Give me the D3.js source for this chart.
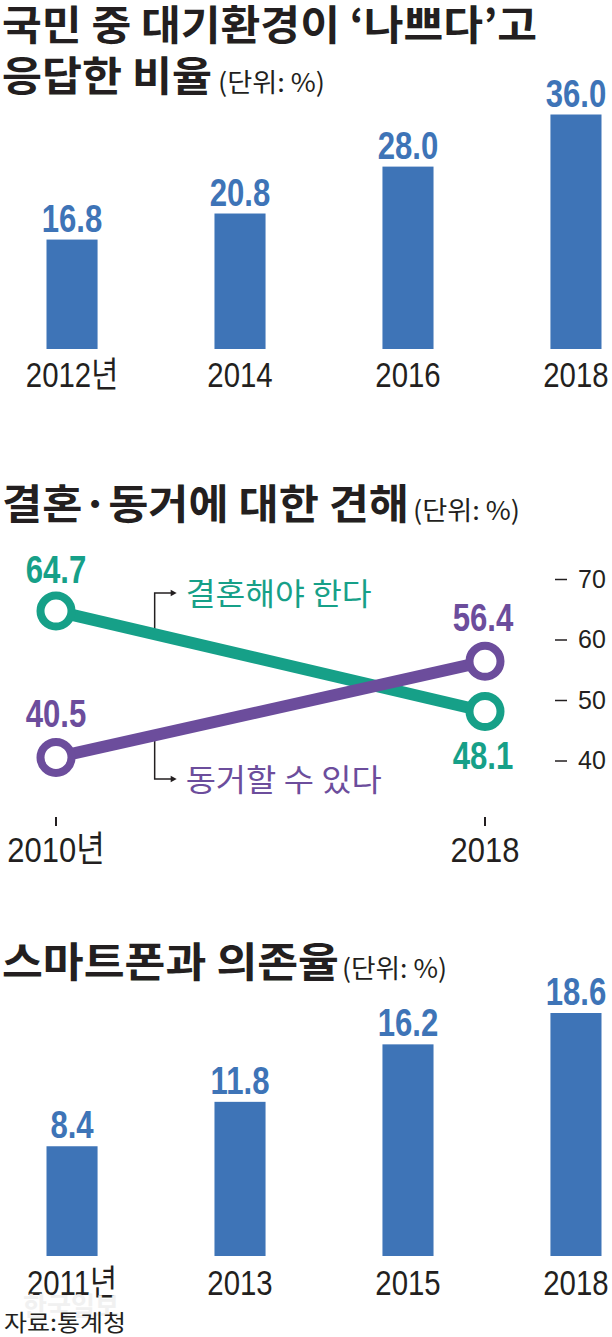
<!DOCTYPE html>
<html><head><meta charset="utf-8">
<script src="https://cdn.jsdelivr.net/npm/d3@7"></script>
<style>
body{margin:0;background:#fff;}
svg{display:block;}
</style></head><body>
<svg id="c" width="612" height="1337"></svg>
<script>
// ---- data ----
const airYears = ["2012년", "2014", "2016", "2018"];
const airValues = [16.8, 20.8, 28.0, 36.0];

const lineYears = [2010, 2018];
const lineYearLabels = ["2010년", "2018"];
const marryValues = [64.7, 48.1];
const cohabitValues = [40.5, 56.4];
const lineTicks = [40, 50, 60, 70];
const marryLabel = "결혼해야 한다";
const cohabitLabel = "동거할 수 있다";

const phoneYears = ["2011년", "2013", "2015", "2018"];
const phoneValues = [8.4, 11.8, 16.2, 18.6];

// ---- style ----
const KR = "'Noto Sans CJK KR','Noto Sans CJK SC',sans-serif";
const NUM = "'Liberation Sans',Arial,'Noto Sans CJK KR',sans-serif";
const INK = "#231f20";
const BLUE = "#3e74b7";
const TEAL = "#16a088";
const PURPLE = "#6c4d9c";

const svg = d3.select("#c");

// horizontally condensed text placed at (x, y)
function narrow(sel, fx, fy, sx) {
  return sel.attr("x", 0).attr("y", 0)
    .attr("transform", (d, i) => `translate(${fx(d, i)},${fy(d, i)}) scale(${sx},1)`);
}

function title(main, mainBase, mainLen, lines) {
  lines.forEach(l => {
    svg.append("text").attr("x", 2).attr("y", l.y)
      .attr("font-family", KR).attr("font-weight", 700).attr("font-size", 41)
      .attr("fill", INK).attr("textLength", l.len).attr("lengthAdjust", "spacingAndGlyphs")
      .text(l.t);
  });
  svg.append("text").attr("x", main.x).attr("y", mainBase)
    .attr("font-family", KR).attr("font-weight", 400).attr("font-size", 26)
    .attr("fill", INK).attr("textLength", mainLen).attr("lengthAdjust", "spacingAndGlyphs")
    .text("(단위: %)");
}

// ===== Chart 1 =====
title({x: 218}, 92, 107, [
  {t: "국민 중 대기환경이 ‘나쁘다’고", y: 40, len: 535},
  {t: "응답한 비율", y: 91, len: 210}
]);

function barChart(cats, vals, yMax, baseY, topY, yearBase) {
  const x = d3.scaleBand().domain(cats).range([46.5, 601.5]).paddingInner(0.696).paddingOuter(0);
  const y = d3.scaleLinear().domain([0, yMax]).range([baseY, topY]);
  const g = svg.append("g");
  const data = cats.map((c, i) => ({c, v: vals[i]}));
  g.selectAll("rect").data(data).join("rect")
    .attr("x", d => x(d.c)).attr("width", x.bandwidth())
    .attr("y", d => y(d.v)).attr("height", d => y(0) - y(d.v))
    .attr("fill", BLUE);
  narrow(g.selectAll("text.val").data(data).join("text").attr("class", "val"),
      d => x(d.c) + x.bandwidth() / 2, d => y(d.v) - 8, 0.82)
    .attr("text-anchor", "middle").attr("font-family", NUM).attr("font-weight", 700)
    .attr("font-size", 38).attr("fill", BLUE)
    .text(d => d.v.toFixed(1));
  narrow(g.selectAll("text.cat").data(data).join("text").attr("class", "cat"),
      d => x(d.c) + x.bandwidth() / 2, () => yearBase, 0.84)
    .attr("text-anchor", "middle").attr("font-family", NUM).attr("font-weight", 400)
    .attr("font-size", 35).attr("fill", INK)
    .text(d => d.c);
}
barChart(airYears, airValues, 36, 349, 114.5, 387);

// ===== Chart 2 =====
title({x: 413}, 520, 107, [
  {t: "결혼·동거에 대한 견해", y: 519, len: 407}
]);

const lx = d3.scaleLinear().domain(lineYears).range([56, 485]);
const ly = d3.scaleLinear().domain([40, 70]).range([760.5, 579]);

const axis = svg.append("g").attr("transform", "translate(555,0)")
  .call(d3.axisRight(ly).tickValues(lineTicks).tickSize(12).tickPadding(11));
axis.select(".domain").remove();
axis.selectAll("line").attr("stroke", INK).attr("stroke-width", 1.5);
axis.selectAll("text").attr("font-family", NUM)
  .attr("font-size", 25).attr("fill", INK);

// year ticks and labels
const yrG = svg.append("g");
yrG.selectAll("line").data(lineYears).join("line")
  .attr("x1", d => lx(d)).attr("x2", d => lx(d)).attr("y1", 817).attr("y2", 826)
  .attr("stroke", INK).attr("stroke-width", 2);
narrow(yrG.selectAll("text").data(lineYears).join("text"), d => lx(d), () => 862, 0.86)
  .attr("text-anchor", "middle").attr("font-family", NUM).attr("font-size", 36)
  .attr("fill", INK).text((d, i) => lineYearLabels[i]);

const seriesList = [
  {vals: marryValues, color: TEAL, name: marryLabel, dir: -1, lblOff: [-28, 58]},
  {vals: cohabitValues, color: PURPLE, name: cohabitLabel, dir: 1, lblOff: [-30, -30]}
];
const lineGen = d3.line().x(d => lx(d.yr)).y(d => ly(d.v));

// annotation connectors
const annT = 0.23;
seriesList.forEach(s => {
  const ax = lx(lineYears[0]) + annT * (lx(lineYears[1]) - lx(lineYears[0]));
  const ayLine = ly(s.vals[0]) + annT * (ly(s.vals[1]) - ly(s.vals[0]));
  const yEnd = s.dir < 0 ? 593 : 779;
  const yStart = ayLine + s.dir * 5;
  svg.append("path").attr("d", `M${ax},${yStart}V${yEnd}H${ax + 17}`)
    .attr("fill", "none").attr("stroke", INK).attr("stroke-width", 1.5);
  svg.append("path").attr("d", `M${ax + 22},${yEnd}l-6,-3.2v6.4z`).attr("fill", INK);
  svg.append("text").attr("x", ax + 31).attr("y", yEnd + 12)
    .attr("font-family", KR).attr("font-size", 31).attr("fill", s.color)
    .attr("textLength", s.dir < 0 ? 186 : 196).attr("lengthAdjust", "spacingAndGlyphs")
    .text(s.name);
});

seriesList.forEach(s => {
  const pts = lineYears.map((yr, i) => ({yr, v: s.vals[i]}));
  svg.append("path").datum(pts).attr("d", lineGen)
    .attr("fill", "none").attr("stroke", s.color).attr("stroke-width", 12);
});
seriesList.forEach(s => {
  const pts = lineYears.map((yr, i) => ({yr, v: s.vals[i], i}));
  const g = svg.append("g");
  g.selectAll("circle").data(pts).join("circle")
    .attr("cx", d => lx(d.yr)).attr("cy", d => ly(d.v)).attr("r", 15.5)
    .attr("fill", "#fff").attr("stroke", s.color).attr("stroke-width", 8);
  narrow(g.selectAll("text").data(pts).join("text"),
      d => lx(d.yr) - (d.i ? 2 : 0), d => ly(d.v) + s.lblOff[d.i], 0.82)
    .attr("text-anchor", "middle").attr("font-family", NUM).attr("font-weight", 700)
    .attr("font-size", 38).attr("fill", s.color).text(d => d.v.toFixed(1));
});

// ===== Chart 3 =====
title({x: 342}, 978, 105, [
  {t: "스마트폰과 의존율", y: 977, len: 337}
]);
barChart(phoneYears, phoneValues, 18.6, 1256, 1013, 1295);

// watermark & source
svg.append("text").attr("x", 23).attr("y", 1316).attr("font-family", KR).attr("font-weight", 700)
  .attr("font-size", 26).attr("fill", "#f1f1f1").attr("textLength", 96)
  .attr("lengthAdjust", "spacingAndGlyphs").text("한국일보");
svg.append("text").attr("x", 4).attr("y", 1331).attr("font-family", KR)
  .attr("font-size", 23).attr("fill", INK).attr("textLength", 122)
  .attr("lengthAdjust", "spacingAndGlyphs").text("자료:통계청");
</script>
</body></html>
